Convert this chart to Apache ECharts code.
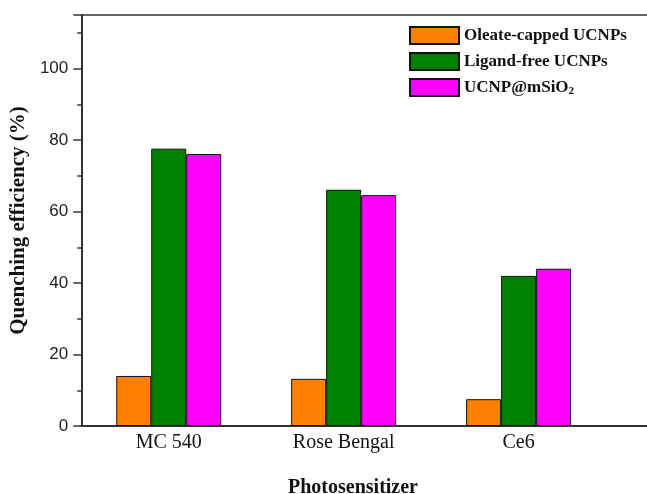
<!DOCTYPE html>
<html>
<head>
<meta charset="utf-8">
<script src="https://cdn.jsdelivr.net/npm/echarts@6/dist/echarts.min.js"></script>
<style>
  html, body { margin: 0; padding: 0; background: #fff; }
  #chart { width: 647px; height: 494px; }
</style>
</head>
<body>
<div id="chart"></div>
<script>
// Photosensitizers on the x axis
const categories = ['MC 540', 'Rose Bengal', 'Ce6'];
// Quenching efficiency (%) per nanoparticle type
const oleateCapped = [14.0, 13.2, 7.5];
const ligandFree = [77.6, 66.1, 42.0];
const ucnpMSiO2 = [76.1, 64.6, 44.0];
const seriesNames = ['Oleate-capped UCNPs', 'Ligand-free UCNPs', 'UCNP@mSiO2'];
const yTicks = [0, 20, 40, 60, 80, 100];

const chart = echarts.init(document.getElementById('chart'), null, { renderer: 'canvas' });

const serif = '"Liberation Serif", "Times New Roman", serif';
const sans = '"Liberation Sans", Arial, sans-serif';

// groups sit at the middle of unit-wide slots; the axis runs on past the last group
const xMax = 3.234;

function atSlots(values) {
  return values.map(function (v, i) { return [i + 0.5, v]; });
}

function barSeries(name, data, color) {
  return {
    name: name,
    type: 'bar',
    data: atSlots(data),
    barWidth: 35,
    barGap: '0%',
    itemStyle: { color: color, borderColor: '#111', borderWidth: 1 }
  };
}

chart.setOption({
  animation: false,
  backgroundColor: '#fff',
  grid: { left: 81, top: 15, bottom: 68, right: 0 },
  title: {
    text: 'Photosensitizer',
    left: 348, top: 473, textAlign: 'center',
    textStyle: { fontFamily: serif, fontWeight: 'bold', fontSize: 20, color: '#111' }
  },
  legend: {
    left: 404, top: 21,
    orient: 'vertical',
    itemWidth: 49, itemHeight: 17, itemGap: 7,
    icon: 'rect',
    data: seriesNames,
    formatter: function (n) {
      return n === 'UCNP@mSiO2' ? 'UCNP@mSiO{sub|2}' : n;
    },
    textStyle: {
      fontFamily: serif, fontWeight: 'bold', fontSize: 17, color: '#111', padding: [0, 0, 0, 0],
      rich: {
        sub: { fontFamily: serif, fontWeight: 'bold', fontSize: 11, color: '#111', verticalAlign: 'bottom', padding: [8, 0, 0, 0] }
      }
    }
  },
  xAxis: [{
    type: 'value',
    min: 0, max: xMax, interval: 0.5,
    axisLine: { show: true, onZero: false, lineStyle: { color: '#333', width: 2 } },
    axisTick: { show: false },
    splitLine: { show: false },
    axisLabel: {
      fontFamily: serif, fontSize: 20, color: '#111', margin: 7,
      showMinLabel: true, showMaxLabel: false,
      formatter: function (v) {
        const i = Math.round(v - 0.5);
        return Math.abs(v - 0.5 - i) < 1e-6 && categories[i] ? categories[i] : '';
      }
    }
  }, {
    // top frame line
    type: 'value', position: 'top',
    min: 0, max: xMax,
    axisLine: { show: true, onZero: false, lineStyle: { color: '#333', width: 1.5 } },
    axisTick: { show: false }, axisLabel: { show: false }, splitLine: { show: false }
  }],
  yAxis: {
    type: 'value',
    min: 0, max: 115, interval: 20,
    name: 'Quenching efficiency (%)',
    nameLocation: 'middle',
    nameGap: 42,
    nameTextStyle: { fontFamily: serif, fontWeight: 'bold', fontSize: 21, color: '#111' },
    axisLine: { show: true, lineStyle: { color: '#333', width: 2 } },
    axisTick: { show: true, length: 8, lineStyle: { color: '#333', width: 1.5 } },
    minorTick: { show: true, splitNumber: 2, length: 4, lineStyle: { color: '#333', width: 1.5 } },
    splitLine: { show: false },
    axisLabel: {
      fontFamily: sans, fontSize: 17, color: '#222', margin: 13,
      formatter: function (v) { return yTicks.indexOf(v) >= 0 ? String(v) : ''; }
    }
  },
  series: [
    barSeries(seriesNames[0], oleateCapped, '#FF8000'),
    barSeries(seriesNames[1], ligandFree, '#008000'),
    barSeries(seriesNames[2], ucnpMSiO2, '#FF00FF')
  ]
});
</script>
</body>
</html>
